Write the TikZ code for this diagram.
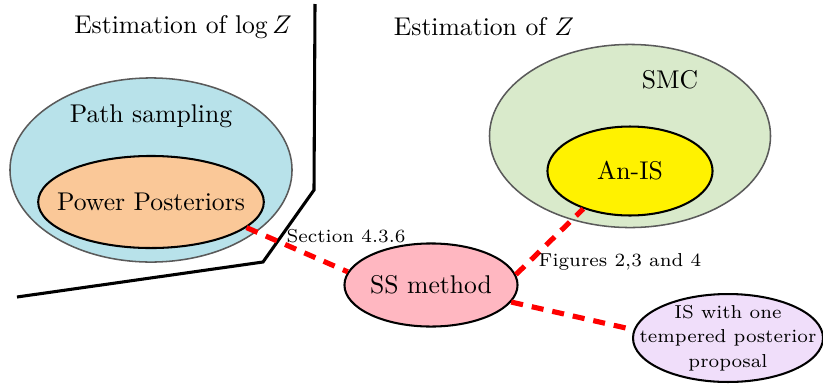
\documentclass[tikz,border=0pt]{standalone}
\usetikzlibrary{shapes.geometric}

\definecolor{psblue}{RGB}{184,226,234}
\definecolor{pppeach}{RGB}{250,200,152}
\definecolor{smcgreen}{RGB}{217,234,203}
\definecolor{sspink}{RGB}{255,183,193}
\definecolor{islilac}{RGB}{240,222,250}
\definecolor{rimgray}{RGB}{90,90,90}

\newcommand{\remfont}{\fontsize{7.3}{9.6}\selectfont}

\tikzset{
  outer/.style={ellipse,draw=rimgray,semithick,inner sep=0pt},
  inner/.style={ellipse,draw,thick,inner sep=0pt},
  link/.style={red,line width=2pt,dash pattern=on 4.7pt off 3.5pt},
  remark/.style={font=\remfont,inner sep=1pt}
}

\begin{document}
\begin{tikzpicture}[x=0.39pt,y=-0.39pt]
\useasboundingbox (0,0) rectangle (823,385);
% the two families
\node (logz) at (183,27) {Estimation of $\log Z$};
\node (z) at (484,27) {Estimation of $Z$};
\draw[very thick] (315,4)--(314,190)--(263,262)--(17,297);

\node[outer,fill=psblue,minimum width=110pt,minimum height=71.8pt] (ps) at (151,170) {};
\node (pstext) at (151,116) {Path sampling};
\node[inner,fill=pppeach,minimum width=88pt,minimum height=35.9pt,label=center:Power Posteriors] (pp) at (151,202) {};

\node[outer,fill=smcgreen,minimum width=109.6pt,minimum height=71.4pt] (smc) at (630,136) {};
\node (smctext) at (670,80) {SMC};
\node[inner,fill=yellow,minimum width=64.4pt,minimum height=34.7pt,label=center:An-IS] (ai) at (630,171) {};

\node[inner,fill=sspink,minimum width=67.5pt,minimum height=32.4pt,label=center:SS method] (ss) at (431,285) {};
\node[inner,fill=islilac,minimum width=74.1pt,minimum height=34.3pt,
  label={[font=\remfont,align=center]center:IS with one\\tempered posterior\\proposal}] (is) at (728,338) {};

% links
\draw[link] (pp.-15)--(ss.171);
\draw[link] (ss.7)--(ai.219);
\draw[link] (ss.-12)--(is.175);
\node[remark] (sec) at (346,236) {Section 4.3.6};
\node[remark] (fig) at (620,262) {Figures 2,3 and 4};
\end{tikzpicture}
\end{document}
